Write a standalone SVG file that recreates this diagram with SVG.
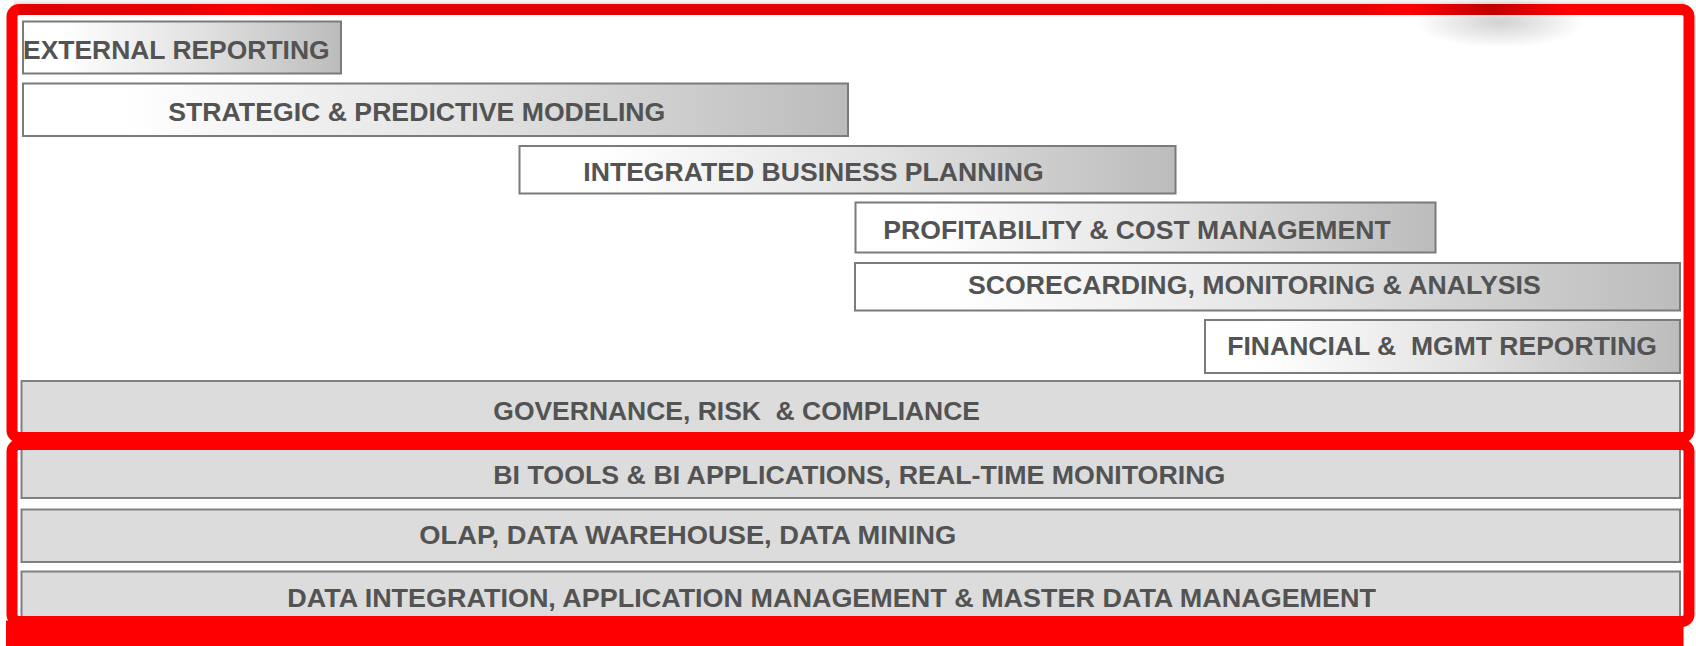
<svg xmlns="http://www.w3.org/2000/svg" width="1696" height="646" viewBox="0 0 1696 646">
  <defs>
    <linearGradient id="boxGrad" x1="0" y1="0" x2="1" y2="0">
      <stop offset="0" stop-color="#ffffff"/>
      <stop offset="0.12" stop-color="#ffffff"/>
      <stop offset="0.55" stop-color="#e2e2e2"/>
      <stop offset="1" stop-color="#bcbcbc"/>
    </linearGradient>
    <linearGradient id="topEdge" gradientUnits="userSpaceOnUse" x1="19" y1="0" x2="1682" y2="0">
      <stop offset="0" stop-color="#e00000"/>
      <stop offset="0.10" stop-color="#e80000"/>
      <stop offset="0.14" stop-color="#ff0000"/>
      <stop offset="0.19" stop-color="#e20000"/>
      <stop offset="0.80" stop-color="#e20000"/>
      <stop offset="0.835" stop-color="#ff0000"/>
      <stop offset="0.885" stop-color="#c00000"/>
      <stop offset="0.93" stop-color="#ff0000"/>
      <stop offset="1" stop-color="#ff0000"/>
    </linearGradient>
    <radialGradient id="shade" cx="0.5" cy="0.5" r="0.5">
      <stop offset="0" stop-color="#9a9a9a" stop-opacity="0.45"/>
      <stop offset="1" stop-color="#9a9a9a" stop-opacity="0"/>
    </radialGradient>
    <linearGradient id="topGlow" x1="0" y1="0" x2="0" y2="1">
      <stop offset="0" stop-color="#d8d8d8" stop-opacity="0.2"/>
      <stop offset="1" stop-color="#c8c8c8" stop-opacity="0.7"/>
    </linearGradient>
  </defs>
  <style>
    .grad { fill: url(#boxGrad); stroke: #7b7b7b; stroke-width: 2; }
    .solid { fill: #dcdcdc; stroke: #808080; stroke-width: 2; }
    .lbl { font-family: "Liberation Sans", Arial, sans-serif; font-weight: bold; font-size: 26.5px; fill: #535353; white-space: pre; }
    .frame { fill: none; stroke: #ff0000; stroke-width: 11; }
  </style>
  <rect x="0" y="0" width="1696" height="646" fill="#ffffff"/>
  <rect x="14" y="0" width="1670" height="5" fill="url(#topGlow)"/>
  <ellipse cx="1500" cy="22" rx="85" ry="26" fill="url(#shade)"/>

  <g id="external-reporting">
    <rect class="grad" x="23" y="21.5" width="318" height="52"/>
    <text class="lbl" x="23" y="59.3" textLength="306.6" lengthAdjust="spacingAndGlyphs">EXTERNAL REPORTING</text>
  </g>
  <g id="strategic-predictive-modeling">
    <rect class="grad" x="23" y="83.5" width="825" height="52.5"/>
    <text class="lbl" x="168.3" y="120.7" textLength="497" lengthAdjust="spacingAndGlyphs">STRATEGIC &amp; PREDICTIVE MODELING</text>
  </g>
  <g id="integrated-business-planning">
    <rect class="grad" x="519.5" y="146" width="656" height="47.5"/>
    <text class="lbl" x="583.3" y="180.7" textLength="460.4" lengthAdjust="spacingAndGlyphs">INTEGRATED BUSINESS PLANNING</text>
  </g>
  <g id="profitability-cost-management">
    <rect class="grad" x="855.5" y="202.5" width="580" height="50"/>
    <text class="lbl" x="883.3" y="238.5" textLength="507.4" lengthAdjust="spacingAndGlyphs">PROFITABILITY &amp; COST MANAGEMENT</text>
  </g>
  <g id="scorecarding-monitoring-analysis">
    <rect class="grad" x="855" y="263" width="825" height="47.5"/>
    <text class="lbl" x="968" y="294" textLength="572.7" lengthAdjust="spacingAndGlyphs">SCORECARDING, MONITORING &amp; ANALYSIS</text>
  </g>
  <g id="financial-mgmt-reporting">
    <rect class="grad" x="1205" y="320" width="475" height="53"/>
    <text class="lbl" x="1227.3" y="354.7" xml:space="preserve" textLength="429.7" lengthAdjust="spacingAndGlyphs">FINANCIAL &amp;  MGMT REPORTING</text>
  </g>
  <g id="governance-risk-compliance">
    <rect class="solid" x="21.5" y="381" width="1658.5" height="60"/>
    <text class="lbl" x="493.3" y="420" xml:space="preserve" textLength="486.7" lengthAdjust="spacingAndGlyphs">GOVERNANCE, RISK  &amp; COMPLIANCE</text>
  </g>
  <g id="bi-tools">
    <rect class="solid" x="21.5" y="446" width="1658.5" height="52"/>
    <text class="lbl" x="493.3" y="484" textLength="732" lengthAdjust="spacingAndGlyphs">BI TOOLS &amp; BI APPLICATIONS, REAL-TIME MONITORING</text>
  </g>
  <g id="olap-data-warehouse">
    <rect class="solid" x="21.5" y="509.5" width="1658.5" height="52.5"/>
    <text class="lbl" x="419.3" y="544" textLength="536.9" lengthAdjust="spacingAndGlyphs">OLAP, DATA WAREHOUSE, DATA MINING</text>
  </g>
  <g id="data-integration">
    <rect class="solid" x="21.5" y="571.5" width="1658.5" height="56"/>
    <text class="lbl" x="287.3" y="606.7" textLength="1088.7" lengthAdjust="spacingAndGlyphs">DATA INTEGRATION, APPLICATION MANAGEMENT &amp; MASTER DATA MANAGEMENT</text>
  </g>

  <g id="frames">
    <rect class="frame" x="12" y="9.5" width="1677" height="428" rx="7"/>
    <line x1="19" y1="9.5" x2="1682" y2="9.5" stroke="url(#topEdge)" stroke-width="11"/>
    <rect class="frame" x="12" y="444.5" width="1677" height="177" rx="7"/>
    <rect x="6" y="620.5" width="1677.5" height="25.5" fill="#ff0000"/>
  </g>
</svg>
